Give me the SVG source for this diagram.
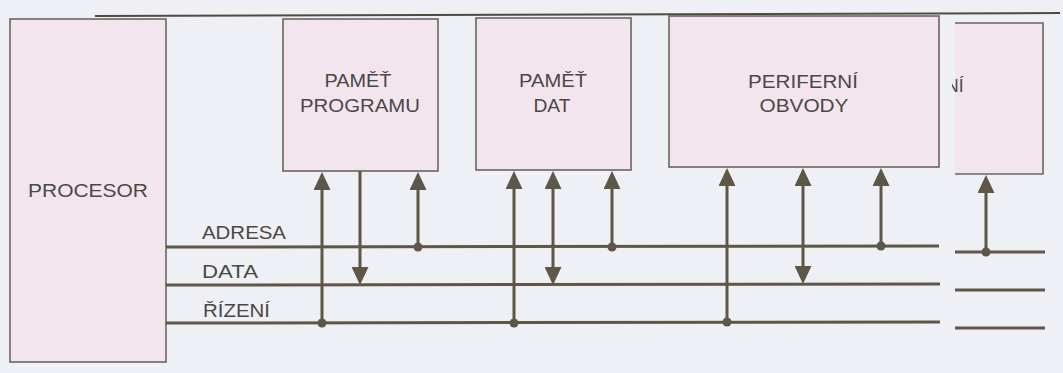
<svg xmlns="http://www.w3.org/2000/svg" width="1063" height="373" viewBox="0 0 1063 373">
<style>
.box{fill:#f3e5ee;stroke:#6b665c;stroke-width:1.6}
.bus{stroke:#5e5647;stroke-width:3;fill:none}
.wire{stroke:#5e5647;stroke-width:3;fill:none}
.dot{fill:#5e5647}
.t{font-family:"Liberation Sans",Arial,sans-serif;font-size:17.5px;fill:#4a4846;text-anchor:middle}
.l{font-family:"Liberation Sans",Arial,sans-serif;font-size:17.5px;fill:#4a4846}
</style>
<defs>
<marker id="ah" markerUnits="userSpaceOnUse" markerWidth="18" markerHeight="17" viewBox="0 0 18 17" refX="8" refY="8.5" orient="auto-start-reverse">
<path d="M0,0 L18,8.5 L0,17 z" fill="#5e5647"/>
</marker>
<clipPath id="cl"><rect x="952" y="60" width="40" height="50"/></clipPath>
</defs>
<rect width="1063" height="373" fill="#eef0f6"/>
<line x1="95" y1="16" x2="1060" y2="13" stroke="#4f4a42" stroke-width="2"/>
<g id="procesor">
<rect class="box" x="10" y="19" width="156" height="343"/>
<text class="t" x="88" y="197" font-size="20" textLength="120" lengthAdjust="spacingAndGlyphs">PROCESOR</text>
</g>
<g id="pamet-programu">
<rect class="box" x="283" y="19" width="155" height="152"/>
<text class="t" x="358" y="87" textLength="67" lengthAdjust="spacingAndGlyphs">PAMĚŤ</text>
<text class="t" x="360" y="112" textLength="120" lengthAdjust="spacingAndGlyphs">PROGRAMU</text>
</g>
<g id="pamet-dat">
<rect class="box" x="476" y="18" width="155" height="152"/>
<text class="t" x="553" y="87" textLength="68" lengthAdjust="spacingAndGlyphs">PAMĚŤ</text>
<text class="t" x="552" y="112" textLength="37" lengthAdjust="spacingAndGlyphs">DAT</text>
</g>
<g id="periferni-obvody">
<rect class="box" x="669" y="16" width="270" height="151"/>
<text class="t" x="803" y="88" textLength="110" lengthAdjust="spacingAndGlyphs">PERIFERNÍ</text>
<text class="t" x="804" y="112" textLength="89" lengthAdjust="spacingAndGlyphs">OBVODY</text>
</g>
<g id="dalsi">
<rect x="955" y="24" width="87" height="149" fill="#f3e5ee"/>
<path d="M955,23 H1043 V174 H955" fill="none" stroke="#6b665c" stroke-width="1.6"/>
<text class="l" x="946" y="92" clip-path="url(#cl)">NÍ</text>
</g>
<g id="labels">
<text class="l" x="202" y="239" textLength="84" lengthAdjust="spacingAndGlyphs">ADRESA</text>
<text class="l" x="202" y="278" textLength="56" lengthAdjust="spacingAndGlyphs">DATA</text>
<text class="l" x="203" y="317" textLength="67" lengthAdjust="spacingAndGlyphs">ŘÍZENÍ</text>
</g>
<g id="connectors">
<line class="bus" x1="166" y1="247" x2="939" y2="246"/>
<line class="bus" x1="166" y1="285" x2="940" y2="284"/>
<line class="bus" x1="166" y1="323" x2="940" y2="322"/>
<line class="bus" x1="955" y1="252" x2="1045" y2="252"/>
<line class="bus" x1="955" y1="290" x2="1045" y2="290"/>
<line class="bus" x1="955" y1="328" x2="1045" y2="328"/>
<line class="wire" x1="322" y1="323" x2="322" y2="182" marker-end="url(#ah)"/>
<line class="wire" x1="360" y1="171" x2="360" y2="275" marker-end="url(#ah)"/>
<line class="wire" x1="418" y1="247" x2="418" y2="182" marker-end="url(#ah)"/>
<line class="wire" x1="514" y1="323" x2="514" y2="181" marker-end="url(#ah)"/>
<line class="wire" x1="553" y1="181" x2="553" y2="275" marker-start="url(#ah)" marker-end="url(#ah)"/>
<line class="wire" x1="612" y1="247" x2="612" y2="181" marker-end="url(#ah)"/>
<line class="wire" x1="727" y1="323" x2="727" y2="178" marker-end="url(#ah)"/>
<line class="wire" x1="803" y1="178" x2="803" y2="274" marker-start="url(#ah)" marker-end="url(#ah)"/>
<line class="wire" x1="881" y1="246" x2="881" y2="178" marker-end="url(#ah)"/>
<line class="wire" x1="986" y1="252" x2="986" y2="185" marker-end="url(#ah)"/>
<circle class="dot" cx="322" cy="323" r="4.5"/>
<circle class="dot" cx="418" cy="247" r="4.5"/>
<circle class="dot" cx="514" cy="323" r="4.5"/>
<circle class="dot" cx="612" cy="247" r="4.5"/>
<circle class="dot" cx="727" cy="322" r="4.5"/>
<circle class="dot" cx="881" cy="246" r="4.5"/>
<circle class="dot" cx="986" cy="252" r="4.5"/>
</g>
</svg>
